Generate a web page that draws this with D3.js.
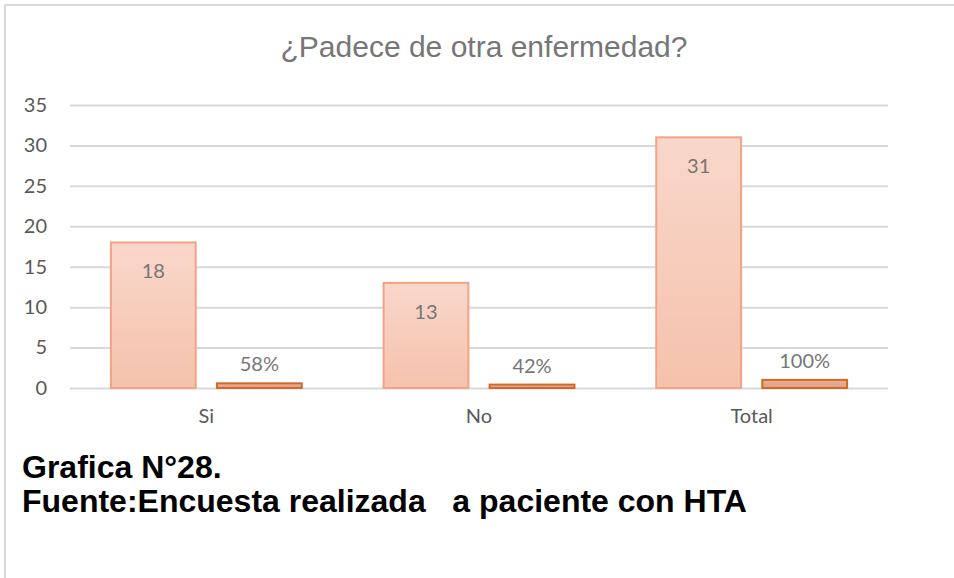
<!DOCTYPE html>
<html lang="es">
<head>
<meta charset="utf-8">
<title>¿Padece de otra enfermedad?</title>
<script src="https://cdn.jsdelivr.net/npm/d3@7"></script>
<style>
  body { margin: 0; background: #fff; }
  .tick text { font-family: Lato, "Open Sans", sans-serif; font-size: 20px; fill: #595959; }
  .vlabel { font-family: Lato, "Open Sans", sans-serif; font-size: 20px; fill: #767676; text-anchor: middle; }
  .title { font-family: "Liberation Sans", Arial, sans-serif; font-size: 30px; fill: #767676; text-anchor: middle; }
  .foot { font-family: "Liberation Sans", Arial, sans-serif; font-size: 32px; font-weight: bold; fill: #000; }
</style>
</head>
<body>
<div id="chart"></div>
<script>
// data
var categories = ["Si", "No", "Total"];
var counts = [18, 13, 31];
var percents = [0.58, 0.42, 1.00];
var percentLabels = ["58%", "42%", "100%"];
var yTicks = [0, 5, 10, 15, 20, 25, 30, 35];

var w = 954, h = 578;

var svg = d3.select("#chart").append("svg")
  .attr("width", w).attr("height", h);

// gradients
var defs = svg.append("defs");
var g1 = defs.append("linearGradient").attr("id", "grad1").attr("x1", 0).attr("y1", 0).attr("x2", 0).attr("y2", 1);
g1.append("stop").attr("offset", "0%").attr("stop-color", "#f9d7cb");
g1.append("stop").attr("offset", "100%").attr("stop-color", "#f5c2ac");
var g2 = defs.append("linearGradient").attr("id", "grad2").attr("x1", 0).attr("y1", 0).attr("x2", 0).attr("y2", 1);
g2.append("stop").attr("offset", "0%").attr("stop-color", "#eaae96");
g2.append("stop").attr("offset", "100%").attr("stop-color", "#e49f83");

// frame
svg.append("rect")
  .attr("x", 5).attr("y", 5).attr("width", 1000).attr("height", 1000)
  .attr("fill", "none").attr("stroke", "#d9d9d9").attr("stroke-width", 2);

var x0 = d3.scaleBand().domain(categories).range([70, 888]).padding(0);
var x1 = d3.scaleBand().domain(["count", "pct"])
  .range([x0.bandwidth() * 0.15, x0.bandwidth() * 0.85])
  .paddingInner(0.2).paddingOuter(0);
var y = d3.scaleLinear().domain([0, 35]).range([388, 105]);

// gridlines + y axis labels
var yAxis = d3.axisLeft(y).tickValues(yTicks).tickSize(-(888 - 70)).tickPadding(23);
var ya = svg.append("g").attr("transform", "translate(70,0)").call(yAxis);
ya.select(".domain").remove();
ya.selectAll(".tick line").attr("stroke", "#d9d9d9").attr("stroke-width", 2);

// x axis labels
var xAxis = d3.axisBottom(x0).tickSize(0).tickPadding(21);
var xa = svg.append("g").attr("transform", "translate(0,388)").call(xAxis);
xa.select(".domain").remove();

// bars
var groups = svg.append("g").selectAll("g")
  .data(categories)
  .enter().append("g")
  .attr("transform", function(d) { return "translate(" + x0(d) + ",0)"; });

groups.append("rect")
  .attr("x", x1("count"))
  .attr("y", function(d, i) { return y(counts[i]); })
  .attr("width", x1.bandwidth())
  .attr("height", function(d, i) { return y(0) - y(counts[i]); })
  .attr("fill", "url(#grad1)")
  .attr("stroke", "#f2a385").attr("stroke-width", 2);

groups.append("rect")
  .attr("x", x1("pct"))
  .attr("y", function(d, i) { return y(percents[i]); })
  .attr("width", x1.bandwidth())
  .attr("height", function(d, i) { return y(0) - y(percents[i]); })
  .attr("fill", "url(#grad2)")
  .attr("stroke", "#d0692c").attr("stroke-width", 2);

// value labels
groups.append("text").attr("class", "vlabel")
  .attr("x", x1("count") + x1.bandwidth() / 2)
  .attr("y", function(d, i) { return y(counts[i]) + 36; })
  .text(function(d, i) { return counts[i]; });

groups.append("text").attr("class", "vlabel")
  .attr("x", x1("pct") + x1.bandwidth() / 2)
  .attr("y", function(d, i) { return y(percents[i]) - 12; })
  .text(function(d, i) { return percentLabels[i]; });

// title
svg.append("text").attr("class", "title")
  .attr("x", 484).attr("y", 57)
  .text("¿Padece de otra enfermedad?");

// footer
svg.append("text").attr("class", "foot").attr("x", 22).attr("y", 478)
  .text("Grafica N°28.");
svg.append("text").attr("class", "foot").attr("x", 22).attr("y", 512)
  .attr("xml:space", "preserve").style("white-space", "pre")
  .text("Fuente:Encuesta realizada   a paciente con HTA");
</script>
</body>
</html>
